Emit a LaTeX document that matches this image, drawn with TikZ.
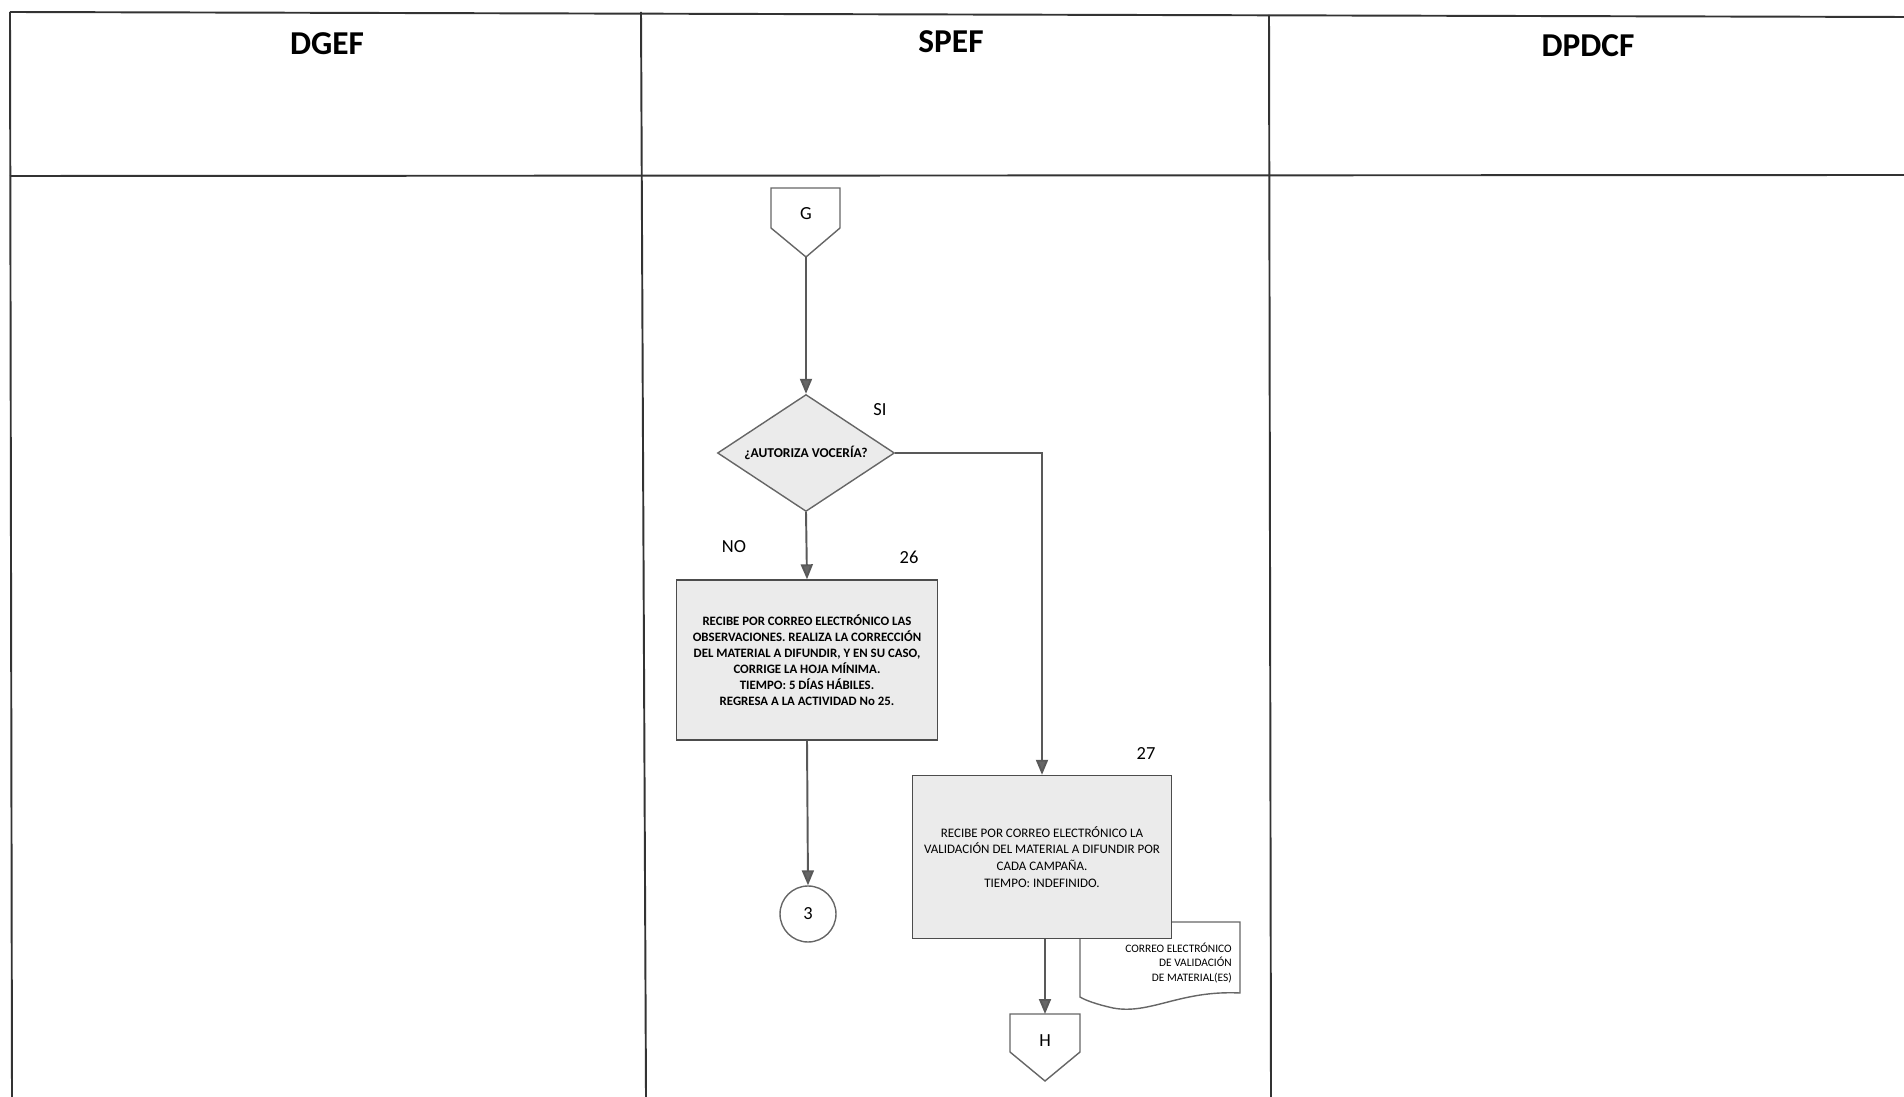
\documentclass[tikz,border=0pt]{standalone}
\usepackage{fontspec}
\setmainfont{Carlito}
\usetikzlibrary{shapes.geometric,arrows.meta,positioning}

\begin{document}
\begin{tikzpicture}[x=0.02cm, y=-0.02cm,
      grid/.style = {draw=black!80, line width=1.1pt},
      flow/.style = {draw=black!65, line width=1.1pt,
          -{Triangle[length=0.3cm, width=0.24cm, fill=black!60]}},
      actbox/.style = {draw=black!70, fill=black!8, line width=0.8pt,
          minimum width=5.2cm, minimum height=3.25cm, align=center},
      decision/.style = {draw=black!60, fill=black!8, diamond, line width=0.8pt,
          minimum width=3.54cm, minimum height=2.34cm, inner sep=0pt,
          font=\bfseries\fontsize{7.7}{9}\selectfont},
      lane/.style = {font=\bfseries\fontsize{19}{22}\selectfont},
      tag/.style = {font=\fontsize{10.5}{12}\selectfont},
      conn/.style = {draw=black!60, line width=0.8pt, fill=white}]
      \useasboundingbox (0,0) rectangle (1904,1097);

      % swimlanes
      \draw[grid] (10,12) -- (1904,17);
      \draw[grid] (10,176) -- (1904,175);
      \draw[grid] (10,12) -- (12,1097);
      \draw[grid] (641,12) -- (646,1097);
      \draw[grid] (1269,15) -- (1271,1097);
      \node[lane] (dgef) at (327,44) {DGEF};
      \node[lane] (spef) at (951,42) {SPEF};
      \node[lane] (dpdcf) at (1588,46) {DPDCF};

      % connector G
      \draw[conn] (771,188) -- (840,188) -- (840,228) -- (806,257) -- (771,228) -- cycle;
      \node[tag] (G) at (806,214) {G};
      \coordinate (Gtip) at (806,257);

      \node[decision] (vox) at (806,453) {\makebox[0pt]{¿AUTORIZA VOCERÍA?}};
      \node[tag] (si) at (880,410) {SI};
      \node[tag] (no) at (734,547) {NO};

      \node[actbox, minimum width=5.22cm, minimum height=3.2cm,
          font=\bfseries\fontsize{7.3}{9.1}\selectfont] (a26) at (807,660)
          {RECIBE POR CORREO ELECTRÓNICO LAS\\
           OBSERVACIONES. REALIZA LA CORRECCIÓN\\
           DEL MATERIAL A DIFUNDIR, Y EN SU CASO,\\
           CORRIGE LA HOJA MÍNIMA.\\
           TIEMPO: 5 DÍAS HÁBILES.\\
           REGRESA A LA ACTIVIDAD No 25.};
      \node[tag] (n26) at (909,557) {26};

      \node[circle, draw=black!60, line width=0.8pt, minimum size=1.12cm,
          inner sep=0pt, tag] (c3) at (808,914) {3};

      % document behind activity 27
      \draw[conn] (1080,922) -- (1240,922) -- (1240,993)
          .. controls (1180,990) and (1150,1015) .. (1113,1008)
          .. controls (1095,1004) and (1085,1000) .. (1080,997) -- cycle;
      \node[align=right, anchor=east, font=\fontsize{6.5}{8.3}\selectfont] (doc)
          at (1238,963) {CORREO ELECTRÓNICO\\DE VALIDACIÓN\\DE MATERIAL(ES)};

      \node[actbox, minimum width=5.18cm, minimum height=3.26cm,
          font=\fontsize{7.4}{9.6}\selectfont] (a27) at (1042,857)
          {RECIBE POR CORREO ELECTRÓNICO LA\\
           VALIDACIÓN DEL MATERIAL A DIFUNDIR POR\\
           CADA CAMPAÑA.\\
           TIEMPO: INDEFINIDO.};
      \node[tag] (n27) at (1146,754) {27};

      % connector H
      \draw[conn] (1010,1014) -- (1080,1014) -- (1080,1052) -- (1045,1081) -- (1010,1052) -- cycle;
      \node[tag] (H) at (1045,1041) {H};
      \coordinate (Htop) at (1045,1014);

      \draw[flow] (Gtip) -- (vox.north);
      \draw[flow] (vox.south) -- (a26.north);
      \draw[flow] (vox.east) -| (a27.north);
      \draw[flow] (a26.south) -- (c3.north);
      \draw[flow] (a27.south -| Htop) -- (Htop);
    \end{tikzpicture}
\end{document}
